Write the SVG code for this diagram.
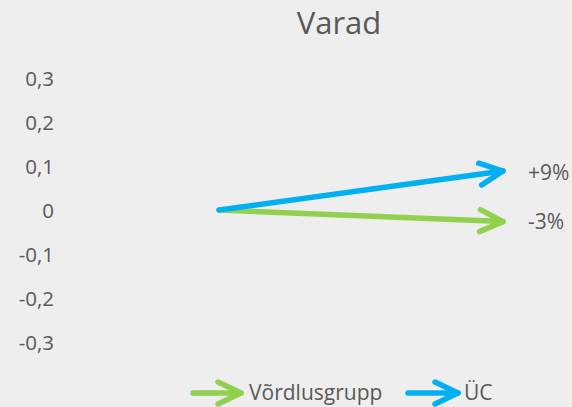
<svg xmlns="http://www.w3.org/2000/svg" width="572" height="407" viewBox="0 0 572 407">
<style>
text{font-family:"Open Sans","Liberation Sans",sans-serif;fill:#595959}
.ax{font-size:20.5px;text-anchor:end}
.lb{font-size:21px}
.t{font-size:31px;text-anchor:middle}
.b{stroke:#00b0f0}
.g{stroke:#92d050}
.ln{fill:none;stroke-width:5.5;stroke-linecap:round;stroke-linejoin:round}
</style>
<defs>
<marker id="ab" markerUnits="userSpaceOnUse" viewBox="-30 -15 36 30" refX="0" refY="0" markerWidth="36" markerHeight="30" orient="auto" overflow="visible">
<path d="M-23,-11 L0,0 L-23,11" fill="none" stroke="#00b0f0" stroke-width="5.5" stroke-linecap="round" stroke-linejoin="round"/>
</marker>
<marker id="ag" markerUnits="userSpaceOnUse" viewBox="-30 -15 36 30" refX="0" refY="0" markerWidth="36" markerHeight="30" orient="auto" overflow="visible">
<path d="M-23,-11 L0,0 L-23,11" fill="none" stroke="#92d050" stroke-width="5.5" stroke-linecap="round" stroke-linejoin="round"/>
</marker>
</defs>
<rect width="572" height="407" fill="#eeeeee"/>
<text class="t" x="339" y="34">Varad</text>
<g id="axis">
<text class="ax" x="54" y="85.5">0,3</text>
<text class="ax" x="54" y="129.5">0,2</text>
<text class="ax" x="54" y="173.5">0,1</text>
<text class="ax" x="54" y="217.5">0</text>
<text class="ax" x="54" y="261.5">-0,1</text>
<text class="ax" x="54" y="305.5">-0,2</text>
<text class="ax" x="54" y="349.5">-0,3</text>
</g>
<g id="connectors">
<path class="ln g" d="M219,210 L503,221.6" marker-end="url(#ag)"/>
<path class="ln b" d="M219,210 L503,171" marker-end="url(#ab)"/>
</g>
<g id="label-ucc"><text class="lb" x="528" y="180">+9%</text></g>
<g id="label-vg"><text class="lb" x="528" y="229">-3%</text></g>
<g id="legend">
<path class="ln g" d="M193,393 L241,393" marker-end="url(#ag)"/>
<text class="lb" x="249" y="400">Võrdlusgrupp</text>
<path class="ln b" d="M408,393 L458,393" marker-end="url(#ab)"/>
<text class="lb" x="464" y="400">ÜC</text>
</g>
</svg>
